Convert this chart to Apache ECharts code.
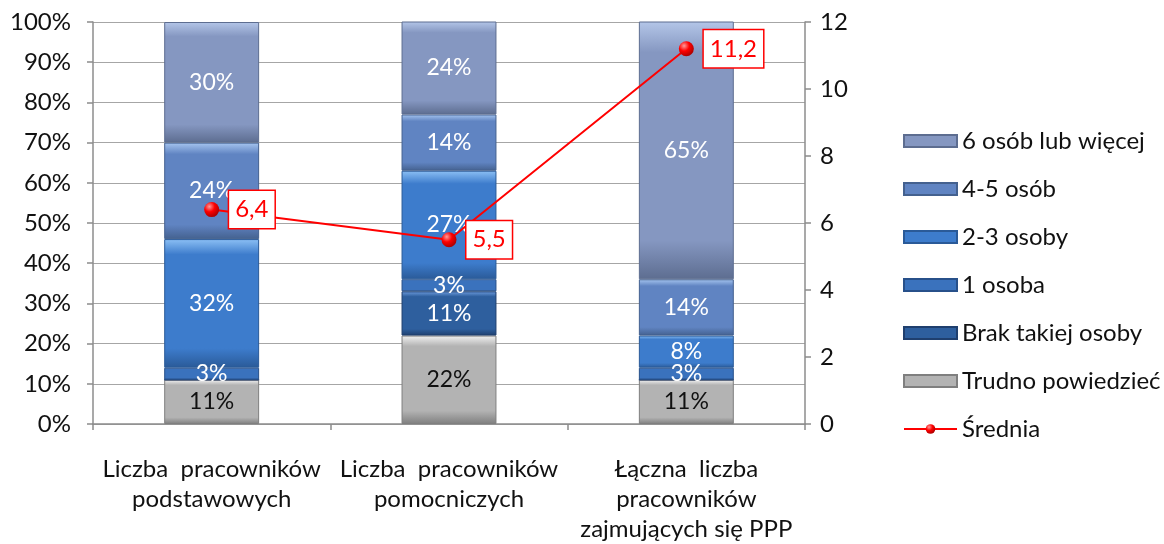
<!DOCTYPE html>
<html>
<head>
<meta charset="utf-8">
<script src="https://cdn.jsdelivr.net/npm/echarts@6/dist/echarts.min.js"></script>
<style>
html, body { margin: 0; padding: 0; background: #fff; }
#chart { width: 1164px; height: 544px; }
</style>
</head>
<body>
<div id="chart"></div>
<script>
var categories = ['Liczba  pracowników\npodstawowych', 'Liczba  pracowników\npomocniczych', 'Łączna  liczba\npracowników\nzajmujących się PPP']
var trudno = [11, 22, 11]
var brak = [0, 11, 0]
var jedna = [3, 3, 3]
var dwieTrzy = [32, 27, 8]
var czteryPiec = [24, 14, 14]
var szescWiecej = [30, 24, 65]
var srednia = [6.4, 5.5, 11.2]
var sredniaLabels = ['6,4', '5,5', '11,2']

var font = 'Lato, "Open Sans", sans-serif'

// pionowy gradient imitujacy wypuklenie z Excela
function grad(top, mid, bottom) {
    return new echarts.graphic.LinearGradient(0, 0, 0, 1, [
        { offset: 0, color: top },
        { offset: 0.12, color: mid },
        { offset: 0.85, color: mid },
        { offset: 1, color: bottom }
    ])
}

function barSeries(name, data, colors, labelColor) {
    return {
        name: name,
        type: 'bar',
        stack: 'total',
        barWidth: '40%',
        data: data,
        itemStyle: {
            color: grad(colors[0], colors[1], colors[2]),
            borderColor: colors[2],
            borderWidth: 1
        },
        label: {
            show: true,
            position: 'inside',
            color: labelColor,
            fontFamily: font,
            fontSize: 23,
            formatter: function (p) { return p.value > 0 ? p.value + '%' : '' }
        }
    }
}

var chart = echarts.init(document.getElementById('chart'))
chart.setOption({
    animation: false,
    grid: { left: 93, right: 359, top: 22, bottom: 119 },
    legend: {
        orient: 'vertical',
        left: 898,
        top: 124,
        itemWidth: 53,
        itemHeight: 12,
        itemGap: 24,
        textStyle: { fontFamily: font, fontSize: 24, color: '#111' },
        data: [
            { name: '6 osób lub więcej', icon: 'rect' },
            { name: '4-5 osób', icon: 'rect' },
            { name: '2-3 osoby', icon: 'rect' },
            { name: '1 osoba', icon: 'rect' },
            { name: 'Brak takiej osoby', icon: 'rect' },
            { name: 'Trudno powiedzieć', icon: 'rect' },
            { name: 'Średnia' }
        ]
    },
    xAxis: {
        type: 'category',
        data: categories,
        axisLine: { lineStyle: { color: '#8c8c8c', width: 1.5 } },
        axisTick: { show: true, length: 6, lineStyle: { color: '#8c8c8c', width: 1.5 } },
        axisLabel: {
            interval: 0,
            hideOverlap: false,
            fontFamily: font,
            fontSize: 24,
            color: '#111',
            lineHeight: 30,
            margin: 30
        }
    },
    yAxis: [
        {
            type: 'value',
            min: 0,
            max: 100,
            interval: 10,
            axisLine: { show: true, lineStyle: { color: '#8c8c8c', width: 1.5 } },
            axisTick: { show: true, length: 6, lineStyle: { color: '#8c8c8c', width: 1.5 } },
            splitLine: { lineStyle: { color: '#a6a6a6', width: 1.2 } },
            axisLabel: {
                fontFamily: font,
                fontSize: 24,
                color: '#111',
                margin: 22,
                formatter: '{value}%'
            }
        },
        {
            type: 'value',
            min: 0,
            max: 12,
            interval: 2,
            position: 'right',
            axisLine: { show: true, lineStyle: { color: '#8c8c8c', width: 1.5 } },
            axisTick: { show: true, length: 6, lineStyle: { color: '#8c8c8c', width: 1.5 } },
            splitLine: { show: false },
            axisLabel: {
                fontFamily: font,
                fontSize: 24,
                color: '#111',
                margin: 15
            }
        }
    ],
    series: [
        barSeries('Trudno powiedzieć', trudno, ['#f2f2f2', '#b3b3b3', '#7f7f7f'], '#111'),
        barSeries('Brak takiej osoby', brak, ['#6f9ee0', '#2e5f9e', '#1f3f6e'], '#fff'),
        barSeries('1 osoba', jedna, ['#8fbaf0', '#3a72bd', '#27508a'], '#fff'),
        barSeries('2-3 osoby', dwieTrzy, ['#8cc0f5', '#3d7ccc', '#2a5a98'], '#fff'),
        barSeries('4-5 osób', czteryPiec, ['#a7c6f0', '#6084c2', '#44618f'], '#fff'),
        barSeries('6 osób lub więcej', szescWiecej, ['#b4c6e8', '#8597c1', '#5d6d90'], '#fff'),
        {
            name: 'Średnia',
            type: 'line',
            yAxisIndex: 1,
            data: srednia,
            z: 10,
            symbol: 'circle',
            symbolSize: 15,
            lineStyle: { color: '#ff0000', width: 2 },
            itemStyle: {
                color: new echarts.graphic.RadialGradient(0.35, 0.3, 0.7, [
                    { offset: 0, color: '#ff9a9a' },
                    { offset: 0.5, color: '#ff0000' },
                    { offset: 1, color: '#b00000' }
                ])
            },
            label: {
                show: true,
                position: 'right',
                distance: 10,
                color: '#ff0000',
                fontFamily: font,
                fontSize: 24,
                backgroundColor: '#fff',
                borderColor: '#ff0000',
                borderWidth: 1.5,
                padding: [7, 6, 6, 6],
                formatter: function (p) { return sredniaLabels[p.dataIndex] }
            }
        }
    ]
})
</script>
</body>
</html>
